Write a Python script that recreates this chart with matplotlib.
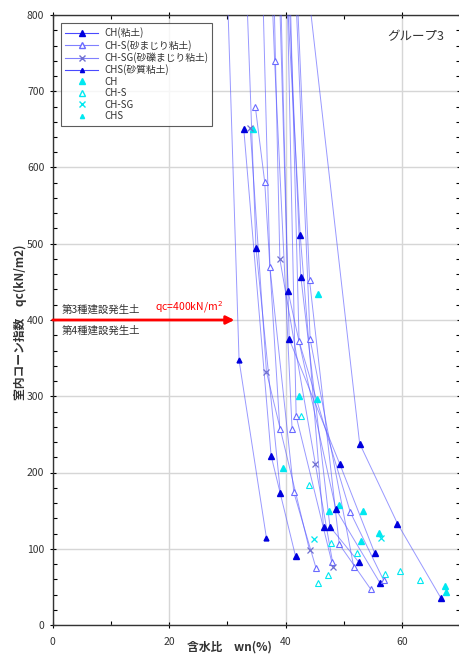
import matplotlib
matplotlib.use("Agg")
import matplotlib.pyplot as plt
from matplotlib.ticker import MultipleLocator
from matplotlib.lines import Line2D

plt.rcParams['font.family'] = ['Noto Sans CJK JP', 'DejaVu Sans']

# 含水比 wn(%) と 室内コーン指数 qc(kN/m2) ; 1試料 = 1本の線
ch_wn = [[32.8, 37.5, 41.7], [32.5, 34.9, 39.1], [39.0, 42.5, 46.5],
         [39.6, 42.6, 47.6, 52.6], [38.3, 40.4, 48.6, 56.2],
         [38.6, 40.6, 49.3, 55.3], [41.4, 52.7, 59.2, 66.6]]
ch_qc = [[651, 222, 90], [1000, 495, 173], [1000, 511, 129],
         [1000, 457, 129, 82], [1000, 438, 152, 55],
         [1000, 375, 211, 94], [1000, 238, 133, 36]]

chs_wn = [[34.8, 36.4, 39.0], [35.5, 37.3, 41.4, 45.2], [36.8, 38.1, 41.1],
          [40.2, 42.3, 51.1, 56.8], [41.0, 44.1, 49.2, 54.6],
          [40.8, 44.2, 51.7], [39.8, 41.8, 47.9]]
chs_qc = [[679, 581, 257], [1000, 469, 174, 75], [1000, 740, 257],
          [1000, 372, 148, 59], [1000, 452, 106, 47],
          [1000, 375, 76], [1000, 274, 83]]

chsg_wn = [[33.9, 36.7, 44.1], [37.5, 39.0, 45.1, 48.2]]
chsg_qc = [[652, 332, 98], [1000, 480, 211, 76]]

chsand_wn = [[29.3, 32.0, 36.7]]
chsand_qc = [[1000, 347, 114]]

# 単独の点（水色）
cy_ch_wn = [34.4, 45.6, 42.3, 45.4, 39.5, 47.4, 49.2, 53.3, 56.1, 52.9, 67.3, 67.5]
cy_ch_qc = [651, 434, 300, 297, 206, 149, 157, 149, 121, 110, 51, 43]
cy_chs_wn = [42.7, 44.0, 47.7, 52.2, 47.3, 45.5, 57.0, 59.7, 63.1]
cy_chs_qc = [274, 183, 107, 94, 66, 55, 67, 71, 59]
cy_chsg_wn = [56.3, 44.8]
cy_chsg_qc = [114, 113]

W, H = 459, 655
fig = plt.figure(figsize=(W / 100, H / 100), dpi=100)
ax = fig.add_axes([52.7 / W, 1 - 625 / H, 407.7 / W, 610 / H])

line_kw = dict(color='#5555ff', lw=0.7, alpha=0.6, zorder=3)
blue = '#0000dd'
cyan = '#00e8f0'

for wn, qc in zip(ch_wn, ch_qc):
    ax.plot(wn, qc, **line_kw)
    ax.plot(wn, qc, ls='none', marker='^', ms=4.7, mfc=blue, mec=blue, zorder=5)
for wn, qc in zip(chs_wn, chs_qc):
    ax.plot(wn, qc, **line_kw)
    ax.plot(wn, qc, ls='none', marker='^', ms=4.7, mfc='white', mec='#6a6aff', mew=0.8, zorder=5)
for wn, qc in zip(chsg_wn, chsg_qc):
    ax.plot(wn, qc, **line_kw)
    ax.plot(wn, qc, ls='none', marker='x', ms=4.5, mec='#7070d0', mew=0.9, zorder=5)
for wn, qc in zip(chsand_wn, chsand_qc):
    ax.plot(wn, qc, **line_kw)
    ax.plot(wn, qc, ls='none', marker='^', ms=3.5, mfc=blue, mec=blue, zorder=5)

ax.plot(cy_ch_wn, cy_ch_qc, ls='none', marker='^', ms=4.7, mfc=cyan, mec=cyan, zorder=4)
ax.plot(cy_chs_wn, cy_chs_qc, ls='none', marker='^', ms=4.7, mfc='white', mec=cyan, mew=0.8, zorder=4)
ax.plot(cy_chsg_wn, cy_chsg_qc, ls='none', marker='x', ms=4.5, mec=cyan, mew=0.9, zorder=4)

ax.set_xlim(0, 70)
ax.set_ylim(0, 800)
ax.xaxis.set_major_locator(MultipleLocator(20))
ax.xaxis.set_minor_locator(MultipleLocator(10))
ax.yaxis.set_major_locator(MultipleLocator(100))
ax.yaxis.set_minor_locator(MultipleLocator(20))
ax.tick_params(which='major', direction='inout', length=5, width=0.8,
               labelsize=7.5, labelcolor='#333333', top=True, right=True)
ax.tick_params(which='minor', direction='in', length=3, width=0.8, top=True, right=True)
ax.tick_params(axis='x', pad=6)
ax.grid(True, which='major', color='#d6d6d6', lw=1.0, zorder=0)
for s in ax.spines.values():
    s.set_color('#333333')
    s.set_linewidth(1.0)

# 凡例
handles = [
    Line2D([], [], color='#4a4aff', lw=0.8, marker='^', ms=4, mfc=blue, mec=blue),
    Line2D([], [], color='#8080ff', lw=0.8, marker='^', ms=4, mfc='white', mec='#6a6aff'),
    Line2D([], [], color='#8080ff', lw=0.8, marker='x', ms=4, mec='#7070d0'),
    Line2D([], [], color='#4a4aff', lw=0.8, marker='^', ms=3, mfc=blue, mec=blue),
    Line2D([], [], ls='none', marker='^', ms=4, mfc=cyan, mec=cyan),
    Line2D([], [], ls='none', marker='^', ms=4, mfc='white', mec=cyan),
    Line2D([], [], ls='none', marker='x', ms=4, mec=cyan),
    Line2D([], [], ls='none', marker='^', ms=3, mfc=cyan, mec=cyan),
]
labels = ['CH(粘土)', 'CH-S(砂まじり粘土)', 'CH-SG(砂礫まじり粘土)', 'CHS(砂質粘土)',
          'CH', 'CH-S', 'CH-SG', 'CHS']
leg = ax.legend(handles, labels, loc='upper left', bbox_to_anchor=(0.008, 0.995),
                fontsize=7, frameon=True, fancybox=False, edgecolor='#333333',
                handlelength=3.4, labelspacing=0.15, borderpad=0.45, handletextpad=0.6)
leg.get_frame().set_linewidth(0.8)
for t in leg.get_texts():
    t.set_color('#333333')

ax.text(0.96, 0.975, 'グループ3', transform=ax.transAxes, ha='right', va='top',
        fontsize=9, color='#333333')

# qc = 400 の境界
ax.annotate('', xy=(31.2, 400), xytext=(0, 400),
            arrowprops=dict(arrowstyle='-|>', color='red', lw=2.0,
                            mutation_scale=12, shrinkA=0, shrinkB=0), zorder=6)
ax.text(1.5, 407, '第3種建設発生土', fontsize=7.5, color='#333333', va='bottom')
ax.text(17.6, 407, 'qc=400kN/m$^2$', fontsize=7.5, color='red', va='bottom')
ax.text(1.5, 393, '第4種建設発生土', fontsize=7.5, color='#333333', va='top')

fig.text(229 / W, 1 - 647 / H, '含水比　wn(%)', ha='center', va='center',
         fontsize=8.5, fontweight='bold', color='#333333')
fig.text(20 / W, 1 - 322 / H, '室内コーン指数　qc(kN/m2)', ha='center', va='center',
         rotation=90, fontsize=8.5, fontweight='bold', color='#333333')

fig.savefig('out.png', dpi=100)
